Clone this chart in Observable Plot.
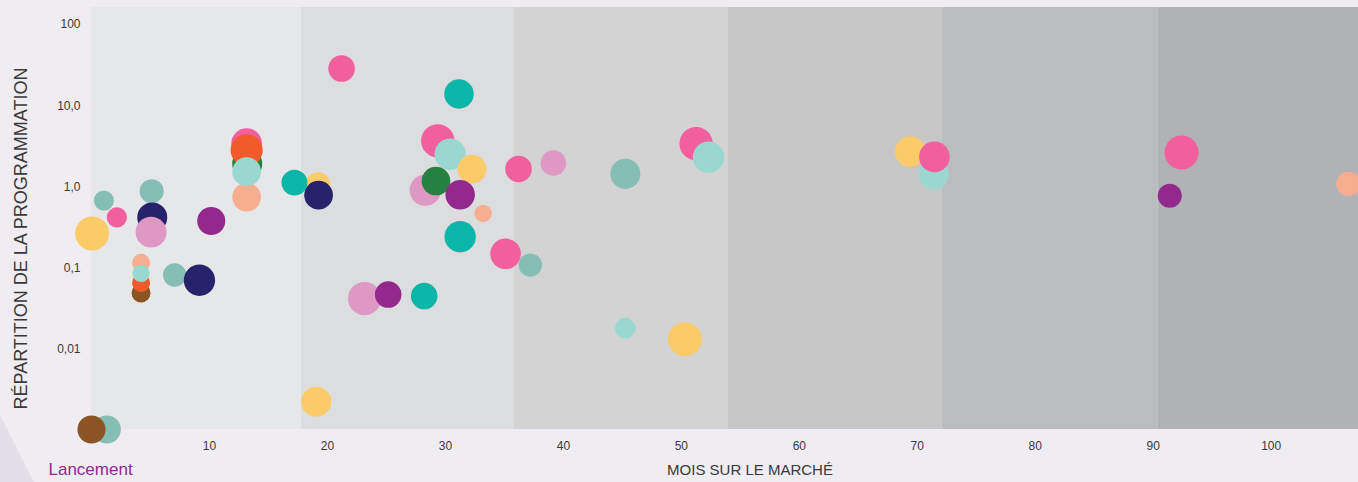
<!DOCTYPE html>
<html>
<head>
<meta charset="utf-8">
<script src="https://cdn.jsdelivr.net/npm/d3@7"></script>
<script src="https://cdn.jsdelivr.net/npm/@observablehq/plot@0.6"></script>
<style>
  html, body { margin: 0; padding: 0; background: #efedf2; }
  #wrap { position: relative; width: 1358px; height: 482px; overflow: hidden; }
  #deco { position: absolute; left: 0; top: 0; width: 1358px; height: 482px; background: #e3dfe9;
          clip-path: polygon(0px 415px, 34px 482px, 0px 482px); z-index: 0; }
  #chart { position: absolute; left: 0; top: 0; z-index: 1; }
</style>
</head>
<body>
<div id="wrap"><div id="deco"></div><div id="chart"></div></div>
<script>
// Bubble data (drawing order matters for overlaps)
const mois = [1.3, 0.0, 1.05, 2.15, 0.05, 5.1, 5.15, 5.05, 4.2, 4.2, 4.2, 4.2, 7.05, 9.15, 10.15,
  13.15, 13.15, 13.2, 13.15, 13.15, 19.2, 17.2, 19.25, 19.05, 21.2, 23.15, 25.15, 28.2, 28.3, 29.2,
  29.35, 30.4, 32.25, 31.25, 31.15, 33.2, 31.25, 35.1, 37.2, 36.2, 39.15, 45.25, 45.25, 50.3, 51.25,
  52.3, 69.4, 71.4, 71.45, 91.4, 92.4, 106.55];
const repartition = [0.001, 0.001, 0.66, 0.41, 0.26, 0.86, 0.41, 0.27, 0.048, 0.064, 0.113, 0.084, 0.080, 0.069, 0.37,
  0.73, 3.33, 1.88, 2.76, 1.50, 1.05, 1.10, 0.77, 0.0022, 28, 0.041, 0.046, 0.044, 0.89, 1.15,
  3.6, 2.46, 1.61, 0.78, 13.6, 0.46, 0.237, 0.146, 0.106, 1.62, 1.92, 1.41, 0.0177, 0.0129, 3.33,
  2.26, 2.65, 1.39, 2.28, 0.76, 2.58, 1.06];
const volume = [68, 68, 35, 35, 100, 50, 78, 83, 31, 28, 28, 26, 47, 85, 68,
  71, 81, 78, 89, 71, 50, 58, 71, 78, 61, 96, 61, 61, 85, 71,
  96, 85, 71, 75, 75, 26, 85, 81, 47, 61, 56, 78, 37, 100, 96,
  85, 81, 78, 81, 50, 100, 52];
const serie = ["gris-vert", "brun", "gris-vert", "rose", "jaune", "gris-vert", "marine", "rose pâle", "brun", "orange", "saumon", "menthe", "gris-vert", "marine", "violet",
  "saumon", "rose", "vert", "orange", "menthe", "jaune", "turquoise", "marine", "jaune", "rose", "rose pâle", "violet", "turquoise", "rose pâle", "vert",
  "rose", "menthe", "jaune", "violet", "turquoise", "saumon", "turquoise", "rose", "gris-vert", "rose", "rose pâle", "gris-vert", "menthe", "jaune", "rose",
  "menthe", "jaune", "menthe", "rose", "violet", "rose", "saumon"];

// Categories & palette
const series = ["rose", "rose pâle", "turquoise", "menthe", "gris-vert", "marine", "violet", "orange", "saumon", "jaune", "vert", "brun"];
const couleurs = ["#f15f9d", "#de98c4", "#09b6a8", "#9ad7cf", "#86bdb5", "#26236a", "#93298d", "#f15a2b", "#f6ad90", "#fbca69", "#268040", "#8b5425"];

// Background period bands (months on market)
const bandeDebut = [0, 17.8, 35.8, 54, 72.1, 90.4];
const bandeFin = [17.8, 35.8, 54, 72.1, 90.4, 108];
const bandeCouleur = ["#e6e7e8", "#dcddde", "#d2d3d2", "#c6c6c6", "#bbbcbd", "#b1b2b5"];

// Ticks
const xTicks = [10, 20, 30, 40, 50, 60, 70, 80, 90, 100];
const yTicks = [100, 10, 1, 0.1, 0.01];
const yTickLabels = ["100", "10,0", "1,0", "0,1", "0,01"];

const points = mois.map((m, i) => ({mois: m, repartition: repartition[i], volume: volume[i], serie: serie[i]}));
const bandes = bandeDebut.map((d, i) => ({x1: d, x2: bandeFin[i], fill: bandeCouleur[i]}));

const chart = Plot.plot({
  width: 1358,
  height: 482,
  marginLeft: 91,
  marginRight: 0,
  marginTop: 7,
  marginBottom: 53,
  style: {fontFamily: "'Liberation Sans', Arial, sans-serif", fontSize: "12px", background: "transparent", color: "#3a3a3a", overflow: "visible"},
  x: {domain: [0, 107.4]},
  y: {type: "log", domain: [0.001, 158]},
  r: {type: "sqrt", domain: [0, 100], range: [0, 17]},
  color: {domain: series, range: couleurs},
  marks: [
    Plot.rect(bandes, {x1: "x1", x2: "x2", fill: d => d.fill, clip: true}),
    Plot.axisX({ticks: xTicks, tickSize: 0, tickPadding: 12, label: null, fontSize: 12}),
    Plot.axisY({ticks: yTicks, tickSize: 0, tickPadding: 11, label: null, fontSize: 12, dy: 1,
      tickFormat: v => yTickLabels[yTicks.indexOf(v)]}),
    Plot.dot(points, {x: "mois", y: "repartition", r: "volume", fill: "serie", stroke: null, fillOpacity: 1, sort: null}),
    Plot.text(["RÉPARTITION DE LA PROGRAMMATION"], {frameAnchor: "left", rotate: -90, dx: -70, dy: 20,
      textAnchor: "middle", fontSize: 18, fill: "#3a3a3a"}),
    Plot.text(["MOIS SUR LE MARCHÉ"], {frameAnchor: "bottom", dx: 25, dy: 45, textAnchor: "middle", fontSize: 15, fill: "#3a3a3a"}),
    Plot.text(["Lancement"], {frameAnchor: "bottom-left", dx: -43, dy: 45, textAnchor: "start", fontSize: 17, fill: "#93278f"})
  ]
});
document.getElementById("chart").appendChild(chart);
</script>
</body>
</html>
